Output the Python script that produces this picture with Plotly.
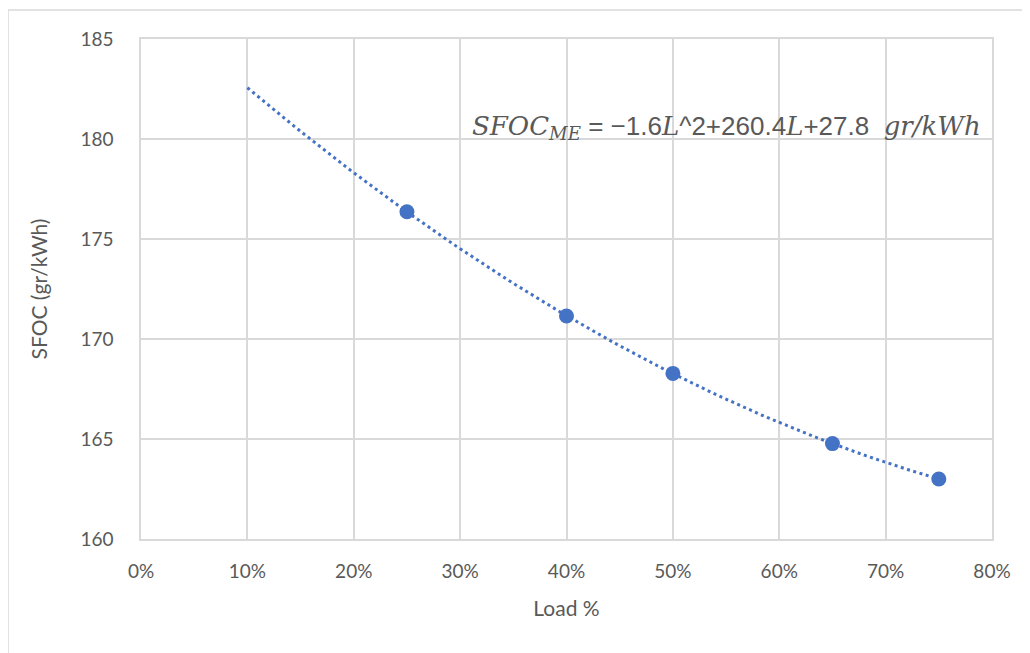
import numpy as np
import plotly.graph_objects as go

load = [0.25, 0.40, 0.50, 0.65, 0.75]
sfoc = [176.36, 171.15, 168.28, 164.77, 163.0]
x_ticks = [0, 0.1, 0.2, 0.3, 0.4, 0.5, 0.6, 0.7, 0.8]
x_tick_labels = ["0%", "10%", "20%", "30%", "40%", "50%", "60%", "70%", "80%"]
y_ticks = [160, 165, 170, 175, 180, 185]
trend_start = 0.10

# order-2 polynomial trendline (as in Excel)
coef = np.polyfit(load, sfoc, 2)
tx = np.linspace(trend_start, max(load), 200)
ty = np.polyval(coef, tx)

BLUE = "#4472C4"
GRID = "#d9d9d9"
TXT = "#595959"
FONT = "Lato, Open Sans, sans-serif"

L, T, W, H = 133, 31, 851, 500

fig = go.Figure()
fig.add_trace(go.Scatter(x=tx, y=ty, mode="lines",
                         line=dict(color=BLUE, width=3, dash="3px,3.5px"),
                         hoverinfo="skip", showlegend=False))
fig.add_trace(go.Scatter(x=load, y=sfoc, mode="markers",
                         marker=dict(color=BLUE, size=15),
                         showlegend=False))

serif = "font-family:'DejaVu Serif','Liberation Serif',serif"
eq = (f"<span style=\"{serif}\"><i>SFOC<sub>ME</sub></i></span>"
      f" = −1.6<span style=\"{serif}\"><i>L</i></span>^2+260.4"
      f"<span style=\"{serif}\"><i>L</i></span>+27.8  "
      f"<span style=\"{serif}\"><i>gr/kWh</i></span>")
fig.add_annotation(x=0.99, y=0.824, xref="paper", yref="paper",
                   xanchor="right", yanchor="middle", showarrow=False,
                   text=eq, font=dict(family="Liberation Sans, sans-serif", size=26, color=TXT))

# outer chart border
fig.add_shape(type="rect", xref="paper", yref="paper",
              x0=(0 - L) / W, x1=(1060 - L) / W,
              y0=(H + T - 700) / H, y1=(H + T - 2) / H,
              line=dict(color=GRID, width=1.5), fillcolor="rgba(0,0,0,0)", layer="below")

fig.update_layout(
    width=1030, height=653,
    margin=dict(l=L, r=1030 - L - W, t=T, b=653 - T - H),
    paper_bgcolor="white", plot_bgcolor="white",
    font=dict(family=FONT, size=19, color=TXT),
    xaxis=dict(range=[0, 0.8], tickvals=x_ticks, ticktext=x_tick_labels,
               showgrid=True, gridcolor=GRID, gridwidth=1.5,
               showline=True, linecolor=GRID, linewidth=1.5, mirror=True,
               zeroline=False, ticks="", ticklabelstandoff=14,
               title=dict(text="Load %", font=dict(size=21, color=TXT), standoff=21)),
    yaxis=dict(range=[160, 185], tickvals=y_ticks,
               showgrid=True, gridcolor=GRID, gridwidth=1.5,
               showline=True, linecolor=GRID, linewidth=1.5, mirror=True,
               zeroline=False, ticks="", ticklabelstandoff=22,
               title=dict(text="SFOC (gr/kWh)", font=dict(size=21, color=TXT), standoff=27)),
)

fig.write_html("out.html")
